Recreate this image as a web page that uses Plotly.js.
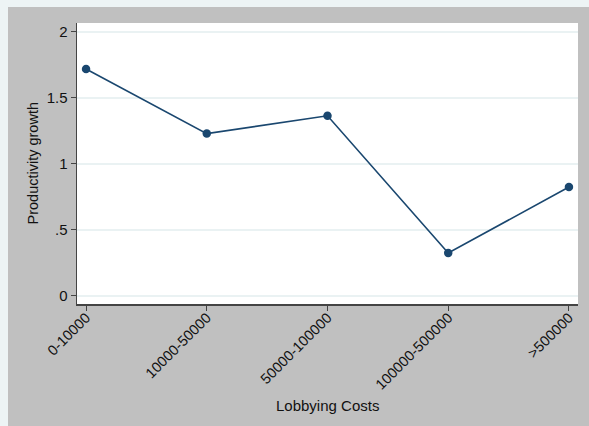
<!DOCTYPE html>
<html>
<head>
<meta charset="utf-8">
<script src="https://cdn.plot.ly/plotly-3.0.1.min.js"></script>
<style>
html, body { margin: 0; padding: 0; background: #EDF4F5; width: 589px; height: 426px; overflow: hidden; }
#chart { position: absolute; left: 8px; top: 7px; width: 581px; height: 419px; }
</style>
</head>
<body>
<div id="chart"></div>
<script>
const categories = ["0-10000", "10000-50000", "50000-100000", "100000-500000", ">500000"];
const productivityGrowth = [1.72, 1.23, 1.365, 0.325, 0.825];
const yTickValues = [0, 0.5, 1, 1.5, 2];
const yTickLabels = ["0", ".5", "1", "1.5", "2"];
const xTitle = "Lobbying Costs";
const yTitle = "Productivity growth";

const xIdx = categories.map((c, i) => i);

const trace = {
  x: xIdx,
  y: productivityGrowth,
  type: "scatter",
  mode: "lines+markers",
  line: { color: "#1a476f", width: 1.6 },
  marker: { color: "#1a476f", size: 8.5, symbol: "circle" },
  hoverinfo: "none"
};

const layout = {
  width: 581,
  height: 419,
  paper_bgcolor: "#C0C0C0",
  plot_bgcolor: "#FFFFFF",
  margin: { l: 69, r: 11, t: 16, b: 122 },
  showlegend: false,
  font: { family: "Liberation Sans, Arial, sans-serif", size: 15, color: "#111111" },
  xaxis: {
    range: [-0.075, 4.075],
    tickmode: "array",
    tickvals: xIdx,
    ticktext: categories,
    tickangle: -45,
    ticks: "outside",
    ticklen: 5,
    tickcolor: "#444444",
    showline: true,
    linecolor: "#444444",
    linewidth: 1.5,
    showgrid: false,
    zeroline: false,
    automargin: false,
    ticklabelstandoff: -7,
    tickfont: { size: 14.5 }
  },
  yaxis: {
    range: [-0.061, 2.068],
    tickmode: "array",
    tickvals: yTickValues,
    ticktext: yTickLabels,
    ticks: "outside",
    ticklen: 5,
    tickcolor: "#444444",
    showline: true,
    linecolor: "#444444",
    linewidth: 1.5,
    showgrid: true,
    gridcolor: "#EAF2F3",
    gridwidth: 1.2,
    zeroline: false,
    automargin: false,
    tickfont: { size: 15 }
  },
  annotations: [
    {
      text: xTitle, xref: "paper", yref: "paper", x: 0.5, y: 0,
      xanchor: "center", yanchor: "middle", yshift: -101,
      showarrow: false, font: { size: 15 }
    },
    {
      text: yTitle, xref: "paper", yref: "paper", x: 0, y: 0.5,
      xanchor: "center", yanchor: "middle", xshift: -45, textangle: -90,
      showarrow: false, font: { size: 14.5 }
    }
  ]
};

Plotly.newPlot("chart", [trace], layout, { staticPlot: true, displayModeBar: false });
</script>
</body>
</html>
